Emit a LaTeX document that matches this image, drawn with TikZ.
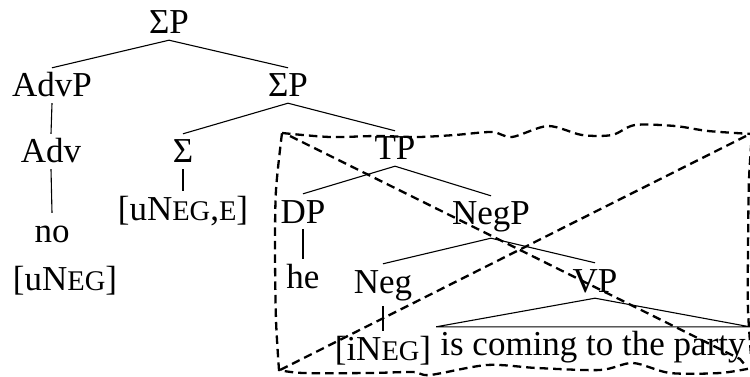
\documentclass[tikz,border=0pt]{standalone}
\usepackage{fontspec}
\setmainfont{Liberation Serif}
\newcommand\smc[1]{{\fontsize{28.5}{28.5}\selectfont #1}}
\tikzset{
  t/.style={anchor=base, text height=23pt, text depth=0pt, inner xsep=0pt, inner ysep=6pt},
  deep/.style={text depth=7pt},
  edge/.style={line width=1.1pt},
  dashline/.style={line width=2.3pt, dash pattern=on 8.5pt off 5pt, line cap=butt},
}
\begin{document}
\begin{tikzpicture}[x=1pt, y=-1pt, font=\fontsize{35}{40}\selectfont]
\useasboundingbox (0,0) rectangle (750,377);

% tree nodes
\node[t] (s1) at (169,34) {ΣP};
\node[t] (advp) at (52,97) {AdvP};
\node[t] (s2) at (288,97) {ΣP};
\node[t] (adv) at (51,163) {Adv};
\node[t] (sig) at (183,163) {Σ};
\node[t] (tp) at (395,160) {TP};
\node[t] (no) at (52,242) {no};
\node[t] (fu) at (65,290) {[uN\smc{EG}]};
\node[t] (fue) at (183,220) {[uN\smc{EG},\smc{E}]};
\node[t] (dp) at (303,223) {DP};
\node[t,deep] (negp) at (491,225) {NegP};
\node[t] (he) at (303,288) {he};
\node[t,deep] (neg) at (383,293) {Neg};
\node[t] (vp) at (595,292) {VP};
\node[t] (fi) at (383,360) {[iN\smc{EG}]};
\node[t, inner xsep=4pt, inner ysep=5pt] (yield) at (593,355) {is coming to the party};

% branches
\draw[edge] (s1.south) -- (advp.north);
\draw[edge] (s1.south) -- (s2.north);
\draw[edge] (advp.south) -- (adv.north);
\draw[edge] (s2.south) -- (sig.north);
\draw[edge] (s2.south) -- (tp.north);
\draw[edge] (adv.south) -- (no.north);
\draw[edge] (sig.south) -- (fue.north);
\draw[edge] (tp.south) -- (dp.north);
\draw[edge] (tp.south) -- (negp.north);
\draw[edge] (dp.south) -- (he.north);
\draw[edge] (negp.south) -- (neg.north);
\draw[edge] (negp.south) -- (vp.north);
\draw[edge] (neg.south) -- (fi.north);
\draw[edge] (vp.south) -- (yield.north west) -- (yield.north east) -- cycle;

% hand-drawn dashed box with its two diagonals
\draw[dashline]
  plot[smooth, tension=0.5] coordinates {(282,133) (330,137) (377,136) (418,137) (455,135) (492,132) (512,137) (548,126) (582,135) (612,135) (635,125) (675,126) (708,131) (752,134)}
  -- plot[smooth, tension=0.5] coordinates {(752,134) (749,180) (748,250) (748,310) (752,368)}
  -- plot[smooth, tension=0.5] coordinates {(752,368) (720,373) (670,373) (633,363) (600,370) (537,368) (487,365) (430,375) (413,372) (370,373) (303,373) (279,370)}
  -- plot[smooth, tension=0.5] coordinates {(279,370) (276,320) (275,250) (276,190) (282,133)};
\coordinate (dtl) at (290,136);
\coordinate (dbr) at (740,359);
\coordinate (dbr2) at (745,365);
\coordinate (dbl) at (280,370);
\coordinate (dtr) at (752,133);
\draw[dashline] (dtl) -- (dbr) -- (dbr2);
\draw[dashline] (dbl) -- (dtr);
\end{tikzpicture}
\end{document}
